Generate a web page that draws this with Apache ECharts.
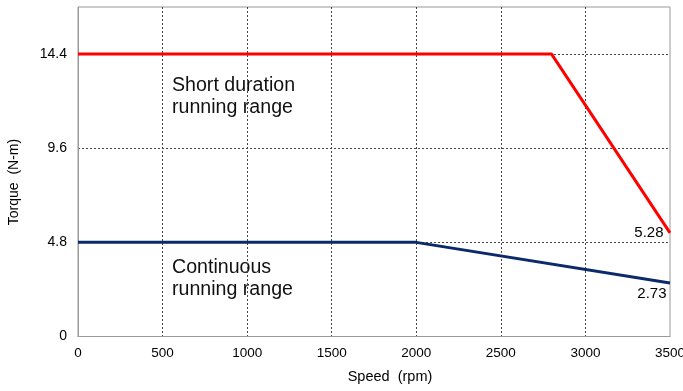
<!DOCTYPE html>
<html><head><meta charset="utf-8">
<script src="https://cdn.jsdelivr.net/npm/echarts@6/dist/echarts.min.js"></script>
<style>html,body{margin:0;padding:0;background:#fff}#c{width:683px;height:391px}</style>
</head><body><div id="c"></div>
<script>
const speeds = [0, 500, 1000, 1500, 2000, 2500, 3000, 3500];
const shortDurationPts = [[0, 14.4], [2800, 14.4], [3500, 5.28]];
const continuousPts = [[0, 4.8], [2000, 4.8], [3500, 2.73]];
const yTicks = [0, 4.8, 9.6, 14.4];
const labelFont = 'Liberation Sans, Arial, sans-serif';

const chart = echarts.init(document.getElementById('c'), null, {renderer: 'canvas'});
const dash = {color: '#444', width: 1, type: [2, 2]};
const lastPt = arr => arr[arr.length - 1];
chart.setOption({
  animation: false,
  grid: {left: 78, right: 13, top: 7, bottom: 54.5, show: true, borderColor: '#999', borderWidth: 1,
    containLabel: false, outerBoundsMode: 'none'},
  xAxis: [{
    type: 'value', min: 0, max: 3500, interval: 500,
    axisLine: {show: true, lineStyle: {color: '#999'}},
    axisTick: {show: false},
    axisLabel: {fontFamily: labelFont, fontSize: 13.5, color: '#000', margin: 10, formatter: v => String(v)},
    splitLine: {show: true, showMinLine: false, showMaxLine: false, lineStyle: dash}
  }],
  yAxis: [{
    type: 'value', min: 0, max: 16.8, interval: 4.8,
    axisLine: {show: true, lineStyle: {color: '#999'}},
    axisTick: {show: false},
    axisLabel: {fontFamily: labelFont, fontSize: 14, color: '#000', margin: 11,
      formatter: v => yTicks.some(t => Math.abs(t - v) < 1e-6) ? String(v) : ''},
    splitLine: {show: true, showMinLine: false, showMaxLine: false, lineStyle: dash}
  }],
  series: [
    {
      type: 'line', data: shortDurationPts, symbol: 'none', z: 5,
      lineStyle: {color: '#ff0000', width: 3},
      emphasis: {disabled: true},
      markPoint: {
        symbol: 'circle', symbolSize: 1, itemStyle: {color: 'rgba(0,0,0,0)'},
        data: [{coord: lastPt(shortDurationPts), value: lastPt(shortDurationPts)[1]}],
        label: {show: true, position: 'left', distance: 6, formatter: p => String(p.value),
          fontFamily: labelFont, fontSize: 15, color: '#000'}
      }
    },
    {
      type: 'line', data: continuousPts, symbol: 'none', z: 5,
      lineStyle: {color: '#0b2a6b', width: 3},
      emphasis: {disabled: true},
      markPoint: {
        symbol: 'circle', symbolSize: 1, itemStyle: {color: 'rgba(0,0,0,0)'},
        data: [{coord: lastPt(continuousPts), value: lastPt(continuousPts)[1]}],
        label: {show: true, position: 'left', distance: 3, offset: [0, 11], formatter: p => String(p.value),
          fontFamily: labelFont, fontSize: 15, color: '#000'}
      }
    }
  ],
  graphic: [
    {type: 'text', left: 172, top: 75, style: {text: 'Short duration\nrunning range', fontFamily: labelFont, fontSize: 19.6, lineHeight: 22, fill: '#111'}},
    {type: 'text', left: 172, top: 257, style: {text: 'Continuous\nrunning range', fontFamily: labelFont, fontSize: 19.6, lineHeight: 22, fill: '#111'}},
    {type: 'text', x: 390, y: 377, style: {text: 'Speed  (rpm)', fontFamily: labelFont, fontSize: 14.5, fill: '#000', align: 'center', verticalAlign: 'middle'}},
    {type: 'text', x: 14.5, y: 182, rotation: Math.PI / 2, style: {text: 'Torque  (N-m)', fontFamily: labelFont, fontSize: 14, fill: '#000', align: 'center', verticalAlign: 'middle'}}
  ]
});
</script></body></html>
